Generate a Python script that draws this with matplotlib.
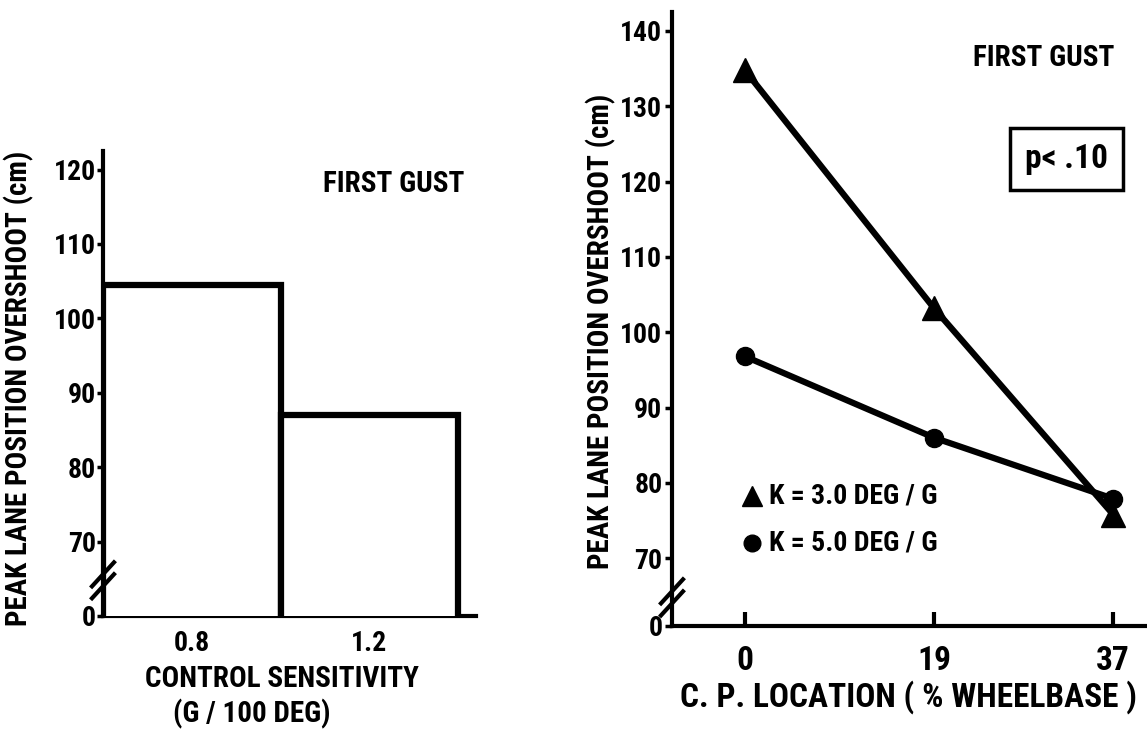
import matplotlib
matplotlib.use("Agg")
import matplotlib.pyplot as plt
from matplotlib import font_manager

# ---------------- data ----------------
sens_labels = ["0.8", "1.2"]
sens_overshoot = [104.5, 87.0]

cp_location = [0, 19, 37]
k3_overshoot = [134.8, 103.2, 75.8]
k5_overshoot = [96.8, 86.0, 77.9]

left_yticks = [60, 70, 80, 90, 100, 110, 120]
left_yticklabels = ["0", "70", "80", "90", "100", "110", "120"]
right_yticks = [61, 70, 80, 90, 100, 110, 120, 130, 140]
right_yticklabels = ["0", "70", "80", "90", "100", "110", "120", "130", "140"]

# ---------------- fonts ----------------
fam = []
for f in ["Liberation Sans Narrow", "Roboto Condensed", "DejaVu Sans"]:
    try:
        font_manager.findfont(f, fallback_to_default=False)
        fam.append(f)
    except Exception:
        pass
if not fam:
    fam = ["DejaVu Sans"]
plt.rcParams["font.family"] = fam
plt.rcParams["font.weight"] = "bold"
plt.rcParams["axes.labelweight"] = "bold"

W, H = 1147, 740
fig = plt.figure(figsize=(W / 100, H / 100), dpi=100)

def px_axes(x0, x1, ytop, ybot):
    return fig.add_axes([x0 / W, 1 - ybot / H, (x1 - x0) / W, (ybot - ytop) / H])

LW_SPINE = 3.0
LW_DATA = 4.5

# ---------------- left panel ----------------
axL = px_axes(103, 476, 151, 616)
axL.set_xlim(-0.5, 1.6)
axL.set_ylim(60, 122.5)
axL.bar(range(len(sens_overshoot)), sens_overshoot, width=1.0, color="white",
        edgecolor="black", linewidth=LW_DATA, zorder=3)
axL.set_yticks(left_yticks)
axL.set_yticklabels(left_yticklabels)
axL.set_xticks(range(len(sens_labels)))
axL.set_xticklabels(sens_labels)
axL.tick_params(axis="y", direction="out", length=4, width=2.5, labelsize=20, pad=1)
axL.tick_params(axis="x", length=0, labelsize=20, pad=10)
for s in ["top", "right"]:
    axL.spines[s].set_visible(False)
for s in ["left", "bottom"]:
    axL.spines[s].set_linewidth(LW_SPINE)
axL.set_ylabel("PEAK LANE POSITION OVERSHOOT (cm)", fontsize=21)
axL.yaxis.set_label_coords(-0.186, 0.49)
axL.text(0.97, 0.93, "FIRST GUST", transform=axL.transAxes, ha="right", va="center",
         fontsize=21)
axL.text(0.48, -0.135, "CONTROL SENSITIVITY", transform=axL.transAxes, ha="center",
         va="center", fontsize=21)
axL.text(0.40, -0.21, "(G / 100 DEG)", transform=axL.transAxes, ha="center",
         va="center", fontsize=21)

def break_marks(ax, wpx, hpx, yfrac_list):
    dx = 11 / wpx
    dy = 12 / hpx
    for yc in yfrac_list:
        ax.plot([-dx, dx], [yc - dy, yc + dy], color="black", lw=3,
                transform=ax.transAxes, clip_on=False, zorder=5)

break_marks(axL, 373, 465, [(64.0 - 60) / 62.5, (65.6 - 60) / 62.5])

# ---------------- right panel ----------------
axR = px_axes(672, 1145, 12, 626)
axR.set_xlim(-7.3, 40.2)
axR.set_ylim(61, 142.5)
axR.plot(cp_location, k3_overshoot, color="black", lw=LW_DATA, marker="^",
         markersize=17, zorder=4, clip_on=False)
axR.plot(cp_location, k5_overshoot, color="black", lw=LW_DATA, marker="o",
         markersize=13, zorder=4, clip_on=False)
axR.set_yticks(right_yticks)
axR.set_yticklabels(right_yticklabels)
axR.set_xticks(cp_location)
axR.set_xticklabels([str(v) for v in cp_location])
axR.tick_params(axis="y", direction="out", length=5, width=2.5, labelsize=20, pad=2)
axR.tick_params(axis="x", direction="in", length=10, width=3, labelsize=24, pad=14)
for s in ["top", "right"]:
    axR.spines[s].set_visible(False)
for s in ["left", "bottom"]:
    axR.spines[s].set_linewidth(LW_SPINE)
axR.set_ylabel("PEAK LANE POSITION OVERSHOOT (cm)", fontsize=21)
axR.yaxis.set_label_coords(-0.118, 0.48)
axR.set_xlabel("C. P. LOCATION ( % WHEELBASE )", fontsize=24, labelpad=2)
axR.text(0.935, 0.925, "FIRST GUST", transform=axR.transAxes, ha="right",
         va="center", fontsize=21)
axR.text(0.835, 0.76, "p< .10", transform=axR.transAxes, ha="center", va="center",
         fontsize=24,
         bbox=dict(boxstyle="square,pad=0.45", fc="white", ec="black", lw=2.5))
axR.plot([0.17], [0.212], marker="^", color="black", markersize=15,
         transform=axR.transAxes, clip_on=False)
axR.text(0.205, 0.212, "K = 3.0 DEG / G", transform=axR.transAxes, ha="left",
         va="center", fontsize=20)
axR.plot([0.17], [0.135], marker="o", color="black", markersize=12,
         transform=axR.transAxes, clip_on=False)
axR.text(0.205, 0.135, "K = 5.0 DEG / G", transform=axR.transAxes, ha="left",
         va="center", fontsize=20)
break_marks(axR, 473, 614, [(64.0 - 61) / 81.5, (65.6 - 61) / 81.5])

fig.savefig("out.png", dpi=100, facecolor="white")
